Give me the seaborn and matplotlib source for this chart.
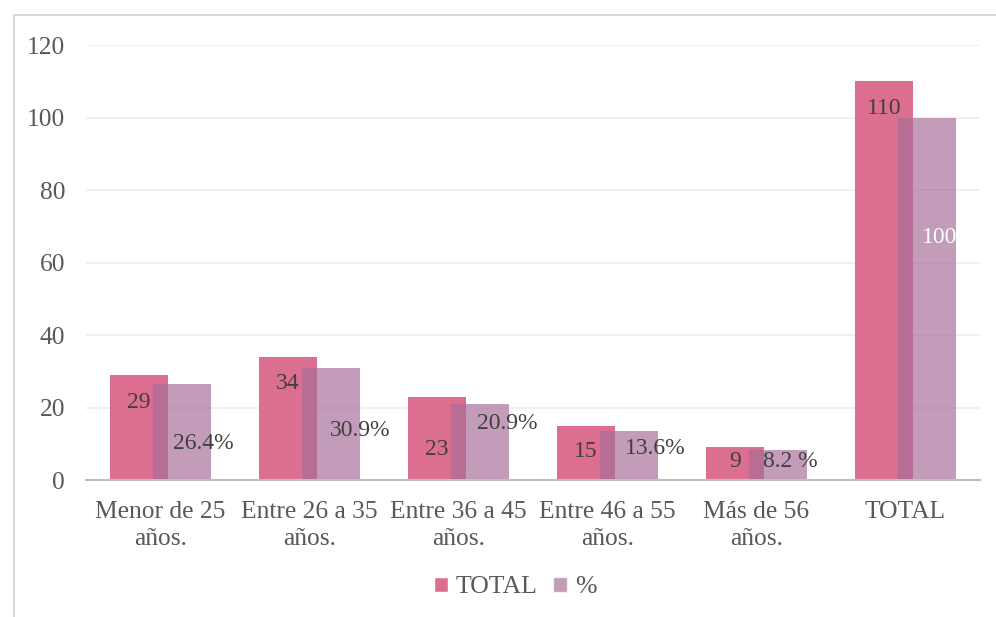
import pandas as pd
import seaborn as sns
import matplotlib.pyplot as plt
from matplotlib.patches import Patch, Rectangle

# datos del gráfico
categorias = ["Menor de 25\naños.", "Entre 26 a 35\naños.", "Entre 36 a 45\naños.",
              "Entre 46 a 55\naños.", "Más de 56\naños.", "TOTAL"]
total = [29, 34, 23, 15, 9, 110]
porcentaje = [26.4, 30.9, 20.9, 13.6, 8.2, 100]
etiquetas_total = ["29", "34", "23", "15", "9", "110"]
etiquetas_pct = ["26.4%", "30.9%", "20.9%", "13.6%", "8.2 %", "100%"]

# posiciones de las etiquetas (como en el original, colocadas a mano)
y_lab_total = [21.5, 26.5, 8.3, 8.0, 5.0, 102.6]
y_lab_pct = [10.2, 13.8, 15.7, 8.6, 5.0, 67.0]
dx_lab_pct = [0.29, 0.34, 0.33, 0.32, 0.225, 0.11]

df = pd.DataFrame({
    "Categoria": categorias * 2,
    "Serie": ["TOTAL"] * len(total) + ["%"] * len(porcentaje),
    "Valor": total + porcentaje,
})

sns.set_theme(style="white")
plt.rcParams['font.family'] = ['Liberation Serif', 'DejaVu Serif']

col_total = "#DC6F8F"
col_pct = "#A66D97"

fig = plt.figure(figsize=(9.96, 6.17), dpi=100)
ax = fig.add_axes([0.0863, 0.222, 0.8977, 0.705])

sns.barplot(data=df, x="Categoria", y="Valor", hue="Serie", order=categorias,
            hue_order=["TOTAL", "%"], palette={"TOTAL": col_total, "%": col_pct},
            width=0.58, legend=False, ax=ax, saturation=1, linewidth=0)

# barras superpuestas estilo Excel
n = len(categorias)
barras = ax.patches
for i, p in enumerate(barras):
    c = p.get_x() + p.get_width() / 2
    p.set_width(0.39)
    p.set_x(c - 0.195)
    p.set_linewidth(0)
    if i >= n:
        p.set_alpha(0.68)

ax.set_xlim(-0.5, n - 0.5)
ax.set_ylim(0, 120)
ax.set_yticks(range(0, 121, 20))
ax.yaxis.grid(True, color="#EDEDED", linewidth=1.2)
ax.set_axisbelow(True)
for s in ["top", "right", "left"]:
    ax.spines[s].set_visible(False)
ax.spines["bottom"].set_color("#BFBFBF")
ax.spines["bottom"].set_linewidth(1.5)
ax.tick_params(axis="both", length=0, labelsize=18.4, labelcolor="#595959")
ax.tick_params(axis="y", pad=15)
ax.tick_params(axis="x", pad=15)
for lab in ax.get_xticklabels():
    lab.set_linespacing(1.3)
ax.set_xlabel("")
ax.set_ylabel("")

# etiquetas de datos
for i in range(n):
    pt = barras[i]
    ax.text(pt.get_x() + pt.get_width() / 2, y_lab_total[i], etiquetas_total[i],
            ha="center", va="center", fontsize=17, color="#404040")
for i in range(n):
    pp = barras[n + i]
    if i == n - 1:
        t = ax.text(i + dx_lab_pct[i], y_lab_pct[i], etiquetas_pct[i],
                    ha="left", va="center", fontsize=17, color="white")
        t.set_clip_path(pp)
    else:
        ax.text(i + dx_lab_pct[i], y_lab_pct[i], etiquetas_pct[i],
                ha="center", va="center", fontsize=17, color="#404040")

# leyenda
handles = [Patch(facecolor=col_total, label="TOTAL"),
           Patch(facecolor=col_pct, alpha=0.68, label="%")]
fig.legend(handles=handles, loc="center", bbox_to_anchor=(0.517, 0.048), ncol=2,
           frameon=False, fontsize=18.5, labelcolor="#595959",
           handlelength=0.55, handleheight=0.55, handletextpad=0.3, columnspacing=0.6)

# marco del gráfico
fig.patches.append(Rectangle((14 / 996, -0.1), 1.1, 1 - 15 / 617 + 0.1,
                             transform=fig.transFigure, fill=False,
                             edgecolor="#D9D9D9", linewidth=1.5))

fig.savefig("out.png", dpi=100)
